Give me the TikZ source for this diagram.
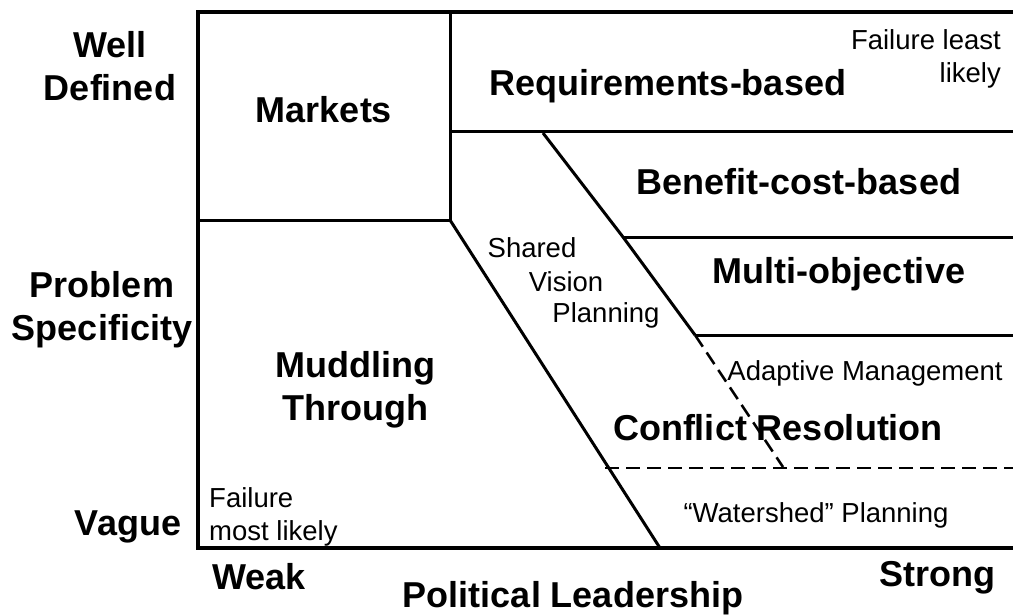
\documentclass[tikz,border=0pt]{standalone}
\usepackage{fontspec}
\setmainfont{Liberation Sans}

\tikzset{
  bigtext/.style={font=\fontsize{36}{43}\selectfont\bfseries, align=center, inner sep=0pt},
  smalltext/.style={font=\fontsize{27.5}{33}\selectfont, align=center, inner sep=0pt},
  frame/.style={line width=4pt},
  divide/.style={line width=3pt},
  hazy/.style={line width=2.5pt, dash pattern=on 14pt off 7pt},
}

\begin{document}
\begin{tikzpicture}[x=1pt,y=-1pt]
  \useasboundingbox (0,0) rectangle (1013,614);

  % outer frame
  \coordinate (TL) at (198,12);
  \coordinate (TR) at (1013,12);
  \coordinate (BL) at (198,548);
  \coordinate (BR) at (1013,548);
  \draw [frame, line join=miter] (TR) -- (TL) -- (BL) -- (BR);

  % markets box
  \coordinate (M1) at (450,12);
  \coordinate (M2) at (450,220);
  \coordinate (M3) at (198,220);
  \draw [divide] (M1) -- (M2) -- (M3);

  % steps on the right
  \coordinate (R1) at (450,131);  \coordinate (R2) at (1013,131);
  \coordinate (S1) at (543,133);
  \coordinate (B1) at (623,237);  \coordinate (B2) at (1013,237);
  \coordinate (C1) at (695,335);  \coordinate (C2) at (1013,335);
  \coordinate (S2) at (783,467);
  \foreach \a/\b in {R1/R2, B1/B2, C1/C2}
    \draw [divide] (\a) -- (\b);
  \draw [divide] (S1) -- (B1) -- (C1);
  \draw [hazy] (C1) -- (S2);

  % long diagonal and watershed line
  \coordinate (D1) at (660,548);
  \draw [divide] (M2) -- (D1);
  \coordinate (W1) at (605,468);  \coordinate (W2) at (1013,468);
  \draw [hazy] (W1) -- (W2);

  % axis labels
  \node [bigtext] (well) at (110,66) {Well\\Defined};
  \node [bigtext] (spec) at (102,310) {Problem\\Specificity};
  \node [bigtext] (vague) at (128,527) {Vague};
  \node [bigtext] (weak) at (259,577) {Weak};
  \node [bigtext] (strong) at (937,578) {Strong};
  \node [bigtext] (lead) at (573,598) {Political Leadership};

  % regions
  \node [bigtext] (markets) at (324,110) {Markets};
  \node [bigtext] (req) at (668,86) {Requirements-based};
  \node [bigtext] (bc) at (799,182) {Benefit-cost-based};
  \node [bigtext] (multi) at (839,274) {Multi-objective};
  \node [bigtext] (muddle) at (355,390) {Muddling\\Through};
  \node [bigtext] (conflict) at (778,428) {Conflict Resolution};

  \node [smalltext, anchor=east, align=right] (least) at (1001,59) {Failure least\\likely};
  \node [smalltext] (shared) at (532,248) {Shared};
  \node [smalltext] (vision) at (566,282) {Vision};
  \node [smalltext] (plan) at (606,315) {Planning};
  \node [smalltext] (adapt) at (865,373) {Adaptive Management};
  \node [smalltext] (water) at (816,515) {“Watershed” Planning};
  \node [smalltext, anchor=west, align=left] (most) at (209,517) {Failure\\most likely};
\end{tikzpicture}
\end{document}
